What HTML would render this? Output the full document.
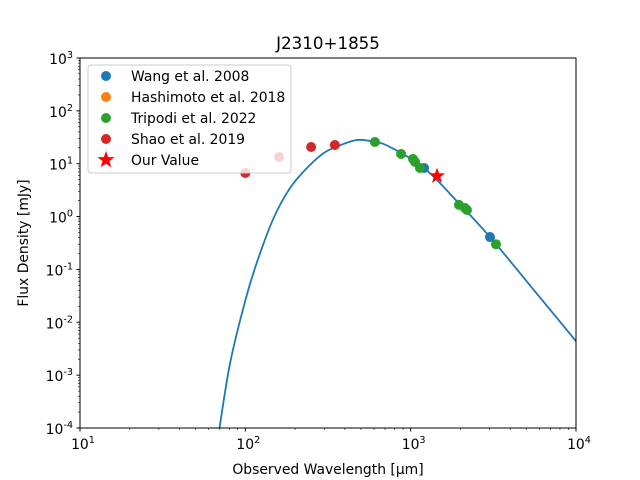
<!DOCTYPE html>
<html><head><meta charset="utf-8"><style>
body{margin:0;background:#fff}
svg{display:block;font-family:"DejaVu Sans","Liberation Sans",sans-serif}
</style></head><body>
<svg id="chart" width="640" height="480" viewBox="0 0 640 480">
<rect width="640" height="480" fill="#fff"/>
<g id="curve-layer"></g>
<g id="points-layer"></g>
<g id="axes-layer"></g>
<g id="legend-layer"></g>
</svg>
<script>
// Data
const wangLam = [1205, 3020];
const wangFlux = [8.3, 0.41];
const tripodiLam = [608, 875, 1033, 1063, 1138, 1960, 2130, 2190, 3280];
const tripodiFlux = [25.8, 15.3, 12.3, 10.8, 8.3, 1.66, 1.45, 1.33, 0.30];
const shaoLam = [100, 160, 250, 348];
const shaoFlux = [6.67, 13.4, 20.7, 22.6];
const ourLam = [1443];
const ourFlux = [5.86];
const curveLam = [69, 80.9, 100, 117, 148, 186, 235, 296, 357, 472, 608, 750, 1205, 2000, 3020, 5250, 10000];
const curveFlux = [0.00008, 0.0017, 0.026, 0.131, 0.927, 3.43, 8.19, 15.7, 21.0, 28.1, 25.8, 20.7, 8.3, 1.66, 0.41, 0.0507, 0.0044];
const xTickExp = [1, 2, 3, 4];
const yTickExp = [-4, -3, -2, -1, 0, 1, 2, 3];

const NS = "http://www.w3.org/2000/svg";
const L = 80, R = 576, T = 58, B = 428;
const X = v => L + (Math.log10(v) - 1) / 3 * (R - L);
const Y = v => T + (3 - Math.log10(v)) / 7 * (B - T);
function mk(tag, attrs, parent) {
  const e = document.createElementNS(NS, tag);
  for (const k in attrs) e.setAttribute(k, attrs[k]);
  parent.appendChild(e);
  return e;
}
const curveLayer = document.getElementById('curve-layer');
const pts = document.getElementById('points-layer');
const axes = document.getElementById('axes-layer');

const defs = mk('defs', {}, document.getElementById('chart'));
const cp = mk('clipPath', {id: 'clip'}, defs);
mk('rect', {x: L, y: T, width: R - L, height: B - T}, cp);

const P = curveLam.map((l, i) => [X(l), Y(curveFlux[i])]);
let d = `M${P[0][0]},${P[0][1]}`;
for (let i = 0; i < P.length - 1; i++) {
  const p0 = P[Math.max(0, i - 1)], p1 = P[i], p2 = P[i + 1], p3 = P[Math.min(P.length - 1, i + 2)];
  const c1 = [p1[0] + (p2[0] - p0[0]) / 6, p1[1] + (p2[1] - p0[1]) / 6];
  const c2 = [p2[0] - (p3[0] - p1[0]) / 6, p2[1] - (p3[1] - p1[1]) / 6];
  d += ` C${c1[0]},${c1[1]} ${c2[0]},${c2[1]} ${p2[0]},${p2[1]}`;
}
const curve = mk('path', {d: d, fill: 'none', stroke: '#1f77b4', 'stroke-width': 1.8, 'clip-path': 'url(#clip)'}, curveLayer);



function dots(lams, fluxes, color, name) {
  lams.forEach((l, i) => {
    const c = mk('circle', {cx: X(l), cy: Y(fluxes[i]), r: 5, fill: color}, pts);
    
    
  });
}
function starPath(cx, cy, ro, ri) {
  let s = '';
  for (let k = 0; k < 10; k++) {
    const a = -Math.PI / 2 + k * Math.PI / 5;
    const r = k % 2 ? ri : ro;
    s += (k ? 'L' : 'M') + (cx + r * Math.cos(a)).toFixed(2) + ',' + (cy + r * Math.sin(a)).toFixed(2);
  }
  return s + 'Z';
}
dots(shaoLam, shaoFlux, '#d62728', 'shao-point');
dots(wangLam, wangFlux, '#1f77b4', 'wang-point');
dots(tripodiLam, tripodiFlux, '#2ca02c', 'tripodi-point');
ourLam.forEach((l, i) => {
  const s = mk('path', {d: starPath(X(l), Y(ourFlux[i]), 8.5, 3.4), fill: 'red'}, pts);
  
  
});

const frame = mk('rect', {x: L, y: T, width: R - L, height: B - T, fill: 'none', stroke: '#000', 'stroke-width': 1}, axes);



function tickLabel(x, y, exp, anchor, name) {
  const t = mk('text', {x: x, y: y, 'font-size': 13.9, 'text-anchor': anchor, fill: '#000'}, axes);
  
  
  const a = document.createElementNS(NS, 'tspan'); a.textContent = '10'; t.appendChild(a);
  const b = document.createElementNS(NS, 'tspan');
  b.setAttribute('font-size', 9.7); b.setAttribute('dy', -6); b.textContent = String(exp); t.appendChild(b);
}
xTickExp.forEach(e => {
  const x = X(Math.pow(10, e));
  mk('line', {x1: x, y1: B, x2: x, y2: B + 3.5, stroke: '#000'}, axes);
  tickLabel(x + 3, B + 21, e, 'middle', 'x-tick-label');
  if (e < 4) for (let m = 2; m <= 9; m++) {
    const xm = X(m * Math.pow(10, e));
    mk('line', {x1: xm, y1: B, x2: xm, y2: B + 2, stroke: '#000', 'stroke-width': 0.6}, axes);
  }
});
yTickExp.forEach(e => {
  const y = Y(Math.pow(10, e));
  mk('line', {x1: L, y1: y, x2: L - 3.5, y2: y, stroke: '#000'}, axes);
  tickLabel(L - 7, y + 6, e, 'end', 'y-tick-label');
  if (e < 3) for (let m = 2; m <= 9; m++) {
    const ym = Y(m * Math.pow(10, e));
    mk('line', {x1: L, y1: ym, x2: L - 2, y2: ym, stroke: '#000', 'stroke-width': 0.6}, axes);
  }
});
</script>
<script>
(function(){
const NS = "http://www.w3.org/2000/svg";
const axes = document.getElementById('axes-layer');
const leg = document.getElementById('legend-layer');
function txt(p, x, y, s, size, anchor, name) {
  const t = document.createElementNS(NS, 'text');
  t.setAttribute('x', x); t.setAttribute('y', y); t.setAttribute('font-size', size);
  t.setAttribute('text-anchor', anchor);
  t.textContent = s;
  
  
  p.appendChild(t);
  return t;
}
txt(axes, 328, 49, 'J2310+1855', 16.7, 'middle', 'chart-title');
txt(axes, 328, 474, 'Observed Wavelength [μm]', 13.9, 'middle', 'x-axis-title');
const yt = txt(axes, 28, 243, 'Flux Density [mJy]', 13.9, 'middle', 'y-axis-title');
yt.setAttribute('transform', 'rotate(-90 28 243)');

const box = document.createElementNS(NS, 'rect');
[['x',88],['y',65],['width',203],['height',108],['rx',3],['fill','#fff'],['fill-opacity',0.8],['stroke','#ccc']].forEach(a=>box.setAttribute(a[0],a[1]));


leg.appendChild(box);
const items = [['Wang et al. 2008','#1f77b4'],['Hashimoto et al. 2018','#ff7f0e'],['Tripodi et al. 2022','#2ca02c'],['Shao et al. 2019','#d62728'],['Our Value','red']];
items.forEach((it, i) => {
  const y = 76 + i * 21;
  let m;
  if (i === 4) {
    m = document.createElementNS(NS, 'path');
    let s = '';
    for (let k = 0; k < 10; k++) { const a = -Math.PI/2 + k*Math.PI/5; const r = k%2?3.6:9; s += (k?'L':'M') + (106 + r*Math.cos(a)).toFixed(2) + ',' + (y + r*Math.sin(a)).toFixed(2); }
    m.setAttribute('d', s + 'Z');
  } else {
    m = document.createElementNS(NS, 'circle');
    m.setAttribute('cx', 106); m.setAttribute('cy', y); m.setAttribute('r', 5);
  }
  m.setAttribute('fill', it[1]);
  
  
  leg.appendChild(m);
  txt(leg, 131, y + 5, it[0], 13.9, 'start', 'legend-label');
});
})();
</script>
</body></html>
